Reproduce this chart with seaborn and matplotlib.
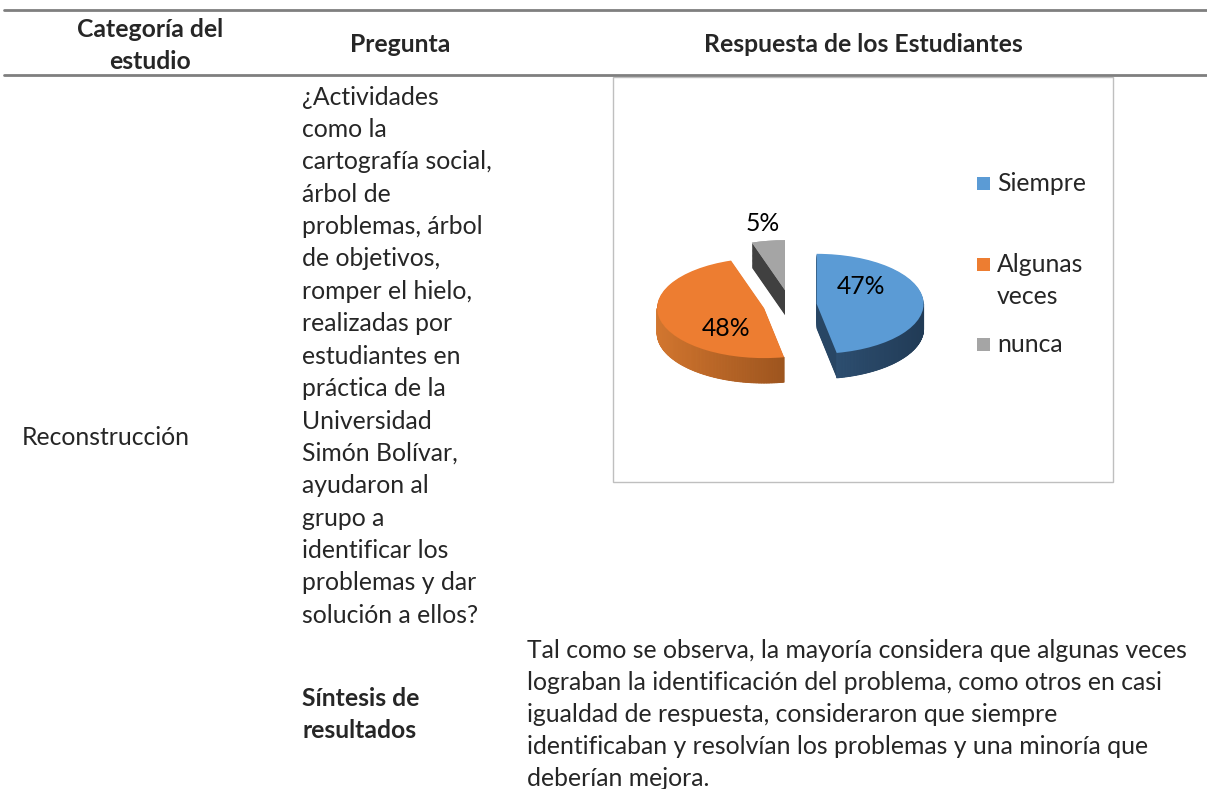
import numpy as np
import matplotlib
matplotlib.use("Agg")
import matplotlib.pyplot as plt
from matplotlib.patches import Rectangle, Polygon
import seaborn as sns

# ---------------- data ----------------
categories = ["Siempre", "Algunas\nveces", "nunca"]
values = [47, 48, 5]
pct_labels = ["47%", "48%", "5%"]
header = ["Categoría del\nestudio", "Pregunta", "Respuesta de los Estudiantes"]
row_category = "Reconstrucción"
question_lines = ["¿Actividades", "como la", "cartografía social,", "árbol de",
                  "problemas, árbol", "de objetivos,", "romper el hielo,",
                  "realizadas por", "estudiantes en", "práctica de la",
                  "Universidad", "Simón Bolívar,", "ayudaron al", "grupo a",
                  "identificar los", "problemas y dar", "solución a ellos?"]
synth_title = ["Síntesis de", "resultados"]
synth_lines = ["Tal como se observa, la mayoría considera que algunas veces",
               "lograban la identificación del problema, como otros en casi",
               "igualdad de respuesta, consideraron que siempre",
               "identificaban y resolvían los problemas y una minoría que",
               "deberían mejora."]

# ---------------- style ----------------
sns.set_theme(style="white")
plt.rcParams['font.family'] = ['Lato', 'DejaVu Sans']
top_colors = sns.color_palette(["#5B9BD5", "#ED7D31", "#A5A5A5"])
side_colors = sns.color_palette(["#284664", "#A8561C", "#404040"])
wall_left = sns.color_palette(["#3F6A96", "#D2762F", "#505050"])
wall_right = sns.color_palette(["#213B56", "#7A3F14", "#303030"])

W, H = 1207, 789
fig = plt.figure(figsize=(W / 100, H / 100), dpi=100)
bg = fig.add_axes([0, 0, 1, 1])
bg.set_xlim(0, W)
bg.set_ylim(H, 0)
bg.axis("off")

FS = 17.8
line_col = "#7f7f7f"
bg.plot([4, W], [10, 10], color=line_col, lw=2)
bg.plot([4, W], [75, 75], color=line_col, lw=2)

# header
bg.text(150, 29, header[0].split("\n")[0], ha="center", va="center", fontsize=FS, fontweight="bold")
bg.text(150, 61, header[0].split("\n")[1], ha="center", va="center", fontsize=FS, fontweight="bold")
bg.text(400, 44, header[1], ha="center", va="center", fontsize=FS, fontweight="bold")
bg.text(863, 44, header[2], ha="center", va="center", fontsize=FS, fontweight="bold")

bg.text(22, 437, row_category, ha="left", va="center", fontsize=FS)
for i, ln in enumerate(question_lines):
    bg.text(302, 97 + i * 32.4, ln, ha="left", va="center", fontsize=FS)
for i, ln in enumerate(synth_title):
    bg.text(302, 698 + i * 32, ln, ha="left", va="center", fontsize=FS, fontweight="bold")
for i, ln in enumerate(synth_lines):
    bg.text(527, 650 + i * 32, ln, ha="left", va="center", fontsize=FS)

# chart frame
bg.add_patch(Rectangle((613, 77), 500, 405, fill=False, edgecolor="#bfbfbf", lw=1))

# ---------------- 3D-ish pie ----------------
cx, cy, rx, ry = 790, 305, 107, 50
x0, x1, y0, y1 = 620, 960, 150, 420
ax = fig.add_axes([x0 / W, (H - y1) / H, (x1 - x0) / W, (y1 - y0) / H])
explode = [0.25, 0.25, 0.3]
depth = 0.5
n = 30
for i in range(n):
    off = -depth + depth * i / n
    ax.pie(values, explode=explode, colors=side_colors, startangle=90,
           counterclock=False, center=(0, off), wedgeprops=dict(linewidth=0))

# shaded outer walls (front-facing part of each arc)
tmp_w, _ = ax.pie(values, explode=explode, colors=top_colors, startangle=90,
                  counterclock=False, center=(0, 0), wedgeprops=dict(linewidth=0))
for w, cl, cr in zip(tmp_w, wall_left, wall_right):
    t1, t2 = w.theta1, w.theta2
    wc = w.center
    angs = np.linspace(t1, t2, 200)
    front = angs[np.sin(np.deg2rad(angs)) < 0]
    if len(front) < 2:
        continue
    xs_all = np.cos(np.deg2rad(front))
    xmin, xmax = -1, 1
    for a, b in zip(front[:-1], front[1:]):
        ra, rb = np.deg2rad(a), np.deg2rad(b)
        xa, ya = wc[0] + np.cos(ra), wc[1] + np.sin(ra)
        xb, yb = wc[0] + np.cos(rb), wc[1] + np.sin(rb)
        f = (np.cos((ra + rb) / 2) + 1) / 2
        col = tuple(np.array(cl) * (1 - f) + np.array(cr) * f)
        ax.add_patch(Polygon([(xa, ya), (xb, yb), (xb, yb - depth), (xa, ya - depth)],
                             closed=True, facecolor=col, edgecolor=col, lw=0.6))
    w.remove()

wedges, _ = ax.pie(values, explode=explode, colors=top_colors, startangle=90,
                   counterclock=False, center=(0, 0), wedgeprops=dict(linewidth=0))
ax.set_aspect("auto")
ax.set_xlim((x0 - cx) / rx, (x1 - cx) / rx)
ax.set_ylim((cy - y1) / ry, (cy - y0) / ry)
ax.axis("off")

for w, lab, v in zip(wedges, pct_labels, values):
    mid = np.deg2rad((w.theta1 + w.theta2) / 2)
    wc = w.center
    if v < 10:
        px, py = wc[0] + 1.35 * np.cos(mid), wc[1] + 1.35 * np.sin(mid)
    else:
        a = mid + np.deg2rad(35)
        px, py = wc[0] + 0.55 * np.cos(a), wc[1] + 0.55 * np.sin(a)
    ax.text(px, py, lab, ha="center", va="center", fontsize=FS, color="black")

# legend
leg_y = [183, 264, 344]
for c, lab, ly in zip(top_colors, categories, leg_y):
    bg.add_patch(Rectangle((977, ly - 6.5), 13, 13, color=c, lw=0))
    for j, part in enumerate(lab.split("\n")):
        bg.text(997, ly + j * 32, part, ha="left", va="center", fontsize=FS)

fig.savefig("out.png", dpi=100)
